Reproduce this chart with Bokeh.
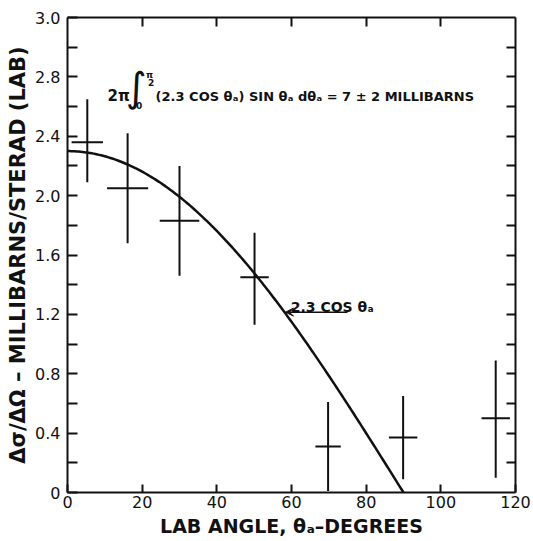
import numpy as np
from bokeh.plotting import figure
from bokeh.models import (Range1d, LinearAxis, FixedTicker, CustomJSTickFormatter,
                          Arrow, VeeHead, ColumnDataSource)
from bokeh.core.properties import value
from bokeh.embed import file_html
from bokeh.resources import INLINE

# ---- data ----
angle = [5.3, 16.1, 30.0, 50.1, 69.8, 89.9, 114.7]        # lab angle (deg)
angle_err = [4.2, 5.5, 5.3, 3.8, 3.4, 3.8, 3.8]           # half-width of angular bin
sigma = [2.36, 2.05, 1.83, 1.45, 0.31, 0.37, 0.50]        # mb/sr
sigma_lo = [2.09, 1.68, 1.46, 1.13, 0.01, 0.09, 0.10]
sigma_hi = [2.65, 2.42, 2.20, 1.75, 0.61, 0.65, 0.89]
amplitude = 2.3                                           # fit: 2.3 cos(theta)

x_tick_values = [0, 20, 40, 60, 80, 100, 120]
x_tick_labels = ["0", "20", "40", "60", "80", "100", "120"]
x_inner_ticks = [20, 40, 60, 80, 100]
y_tick_values = [0.0, 0.4, 0.8, 1.2, 1.6, 2.0, 2.4, 2.8, 3.2]
y_tick_labels = ["0", "0.4", "0.8", "1.2", "1.6", "2.0", "2.4", "2.8", "3.0"]
y_minor_ticks = [0.2, 0.6, 1.0, 1.4, 1.8, 2.2, 2.6, 3.0]
y_inner_ticks = [0.2, 0.4, 0.6, 0.8, 1.0, 1.2, 1.4, 1.6, 1.8, 2.0,
                 2.2, 2.4, 2.6, 2.8, 3.0]

FONT = "DejaVu Sans"
INK = "#111111"

src = ColumnDataSource(dict(
    x=angle, y=sigma,
    x0=[a - e for a, e in zip(angle, angle_err)],
    x1=[a + e for a, e in zip(angle, angle_err)],
    lo=sigma_lo, hi=sigma_hi,
))

theta = np.linspace(0, 90, 181)
curve = ColumnDataSource(dict(x=theta, y=amplitude * np.cos(np.radians(theta))))

p = figure(width=533, height=541, output_backend="svg", toolbar_location=None,
           x_range=Range1d(0, 120), y_range=Range1d(0, 3.2),
           min_border_left=67, min_border_right=18, min_border_top=17,
           min_border_bottom=49, x_axis_location=None, y_axis_location=None)
p.grid.visible = False
p.outline_line_color = None
p.background_fill_color = "white"
p.border_fill_color = "white"

fmt_code = """
const i = values.findIndex(t => Math.abs(t - tick) < 1e-6);
return i >= 0 ? labels[i] : "";
"""

def style(ax, tick_len):
    ax.axis_line_width = 2
    ax.axis_line_color = INK
    ax.major_tick_in = tick_len
    ax.major_tick_out = 0
    ax.major_tick_line_width = 2
    ax.major_tick_line_color = INK
    ax.minor_tick_in = tick_len
    ax.minor_tick_out = 0
    ax.minor_tick_line_width = 2
    ax.minor_tick_line_color = INK

xb = LinearAxis(ticker=FixedTicker(ticks=x_tick_values, minor_ticks=[]),
                formatter=CustomJSTickFormatter(args=dict(values=x_tick_values, labels=x_tick_labels), code=fmt_code),
                axis_label="LAB ANGLE, θₐ–DEGREES")
style(xb, 8)
xb.major_label_text_font = FONT
xb.major_label_text_font_size = "16px"
xb.major_label_text_color = INK
xb.major_label_standoff = 3
xb.axis_label_text_font = FONT
xb.axis_label_text_font_style = "bold"
xb.axis_label_text_font_size = "19px"
xb.axis_label_text_color = INK
xb.axis_label_standoff = 4
p.add_layout(xb, "below")

yl = LinearAxis(ticker=FixedTicker(ticks=y_tick_values, minor_ticks=y_minor_ticks),
                formatter=CustomJSTickFormatter(args=dict(values=y_tick_values, labels=y_tick_labels), code=fmt_code),
                axis_label="Δσ/ΔΩ – MILLIBARNS/STERAD (LAB)")
style(yl, 10)
yl.major_label_text_font = FONT
yl.major_label_text_font_size = "16px"
yl.major_label_text_color = INK
yl.major_label_standoff = 7
yl.axis_label_text_font = FONT
yl.axis_label_text_font_style = "bold"
yl.axis_label_text_font_size = "21px"
yl.axis_label_text_color = INK
yl.axis_label_standoff = 2
p.add_layout(yl, "left")

xt = LinearAxis(ticker=FixedTicker(ticks=[], minor_ticks=x_inner_ticks))
style(xt, 9)
xt.major_label_standoff = 0
p.add_layout(xt, "above")

yr = LinearAxis(ticker=FixedTicker(ticks=[], minor_ticks=y_inner_ticks))
style(yr, 9)
yr.major_label_standoff = 0
p.add_layout(yr, "right")

# model curve
p.line("x", "y", source=curve, line_width=2.5, line_color=INK)

# data with error bars
p.segment(x0="x", y0="lo", x1="x", y1="hi", source=src, line_width=2, line_color=INK)
p.segment(x0="x0", y0="y", x1="x1", y1="y", source=src, line_width=2, line_color=INK)

# formula annotation
p.text(x=[10.7], y=[2.668], text=["2π"], text_font=value(FONT), text_font_style="bold",
       text_font_size="15px", text_color=INK, text_baseline="alphabetic")
p.text(x=[15.6], y=[2.73], text=["∫"], text_font=value(FONT),
       text_font_size="40px", text_color=INK, text_baseline="middle")
p.text(x=[22.0], y=[2.815], text=["π"], text_font=value(FONT), text_font_style="bold",
       text_font_size="9px", text_color=INK, text_baseline="middle", text_align="center")
p.text(x=[22.4], y=[2.765], text=["2"], text_font=value(FONT), text_font_style="bold",
       text_font_size="9px", text_color=INK, text_baseline="middle", text_align="center")
p.text(x=[19.2], y=[2.605], text=["0"], text_font=value(FONT), text_font_style="bold",
       text_font_size="9px", text_color=INK, text_baseline="middle", text_align="center")
p.text(x=[23.6], y=[2.668], text=["(2.3 COS θₐ) SIN θₐ dθₐ = 7 ± 2 MILLIBARNS"],
       text_font=value(FONT), text_font_style="bold", text_font_size="13px",
       text_color=INK, text_baseline="alphabetic")

# curve label with arrow
p.text(x=[59.8], y=[1.252], text=["2.3 COS θₐ"], text_font=value(FONT), text_font_style="bold",
       text_font_size="14px", text_color=INK, text_baseline="alphabetic")
p.add_layout(Arrow(x_start=75.0, y_start=1.215, x_end=58.4, y_end=1.215,
                   line_width=1.5, line_color=INK,
                   end=VeeHead(size=8, line_color=INK, fill_color=INK, line_width=1)))

open("out.html", "w").write(file_html(p, INLINE))
